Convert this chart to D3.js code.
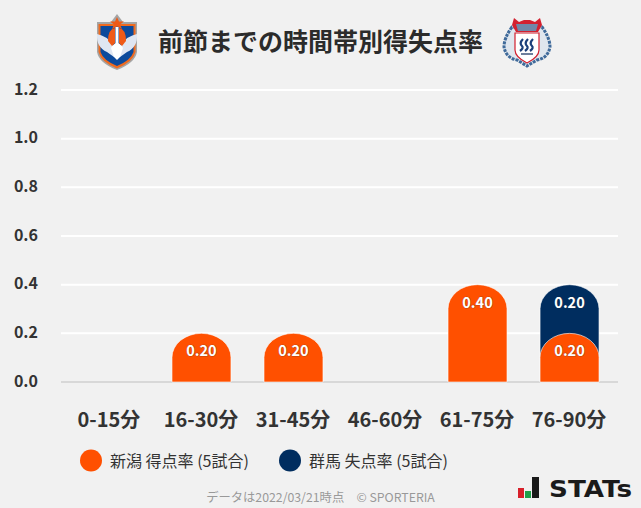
<!DOCTYPE html>
<html><head><meta charset="utf-8">
<script src="https://cdnjs.cloudflare.com/ajax/libs/d3/7.8.5/d3.min.js"></script>
<style>html,body{margin:0;padding:0;background:#f1f1f1}svg{display:block}text{font-family:"Noto Sans CJK JP","Noto Sans",sans-serif}</style>
</head><body><svg id="c" width="641" height="508"></svg>
<script>
const categories=["0-15分","16-30分","31-45分","46-60分","61-75分","76-90分"];
const homeScored=[0,0.20,0.20,0,0.40,0.20];
const awayConceded=[0,0,0,0,0,0.20];
const yTicks=[0,0.2,0.4,0.6,0.8,1.0,1.2];
const title="前節までの時間帯別得失点率";
const legendLabels=["新潟 得点率 (5試合)","群馬 失点率 (5試合)"];
const footer="データは2022/03/21時点　© SPORTERIA";
const ORANGE="#ff5000",NAVY="#002d5f";

const svg=d3.select("#c");
svg.append("rect").attr("width",641).attr("height",508).attr("fill","#f1f1f1");
const x=d3.scaleBand().domain(categories).range([63.5,615.5]).paddingInner(0.359).paddingOuter(0.179);
const y=d3.scaleLinear().domain([0,1.2]).range([382,90]);

svg.append("g").selectAll("line").data(yTicks).join("line")
  .attr("x1",61).attr("x2",618).attr("y1",d=>y(d)).attr("y2",d=>y(d))
  .attr("stroke",d=>d===0?"#d8d8d8":"#fff").attr("stroke-width",2);
svg.append("g").selectAll("text").data(yTicks).join("text")
  .attr("x",38).attr("y",d=>y(d)+4.5).attr("text-anchor","end")
  .attr("font-size",16).attr("font-weight",700).attr("fill","#333").text(d=>d.toFixed(1));
svg.append("g").selectAll("text").data(categories).join("text")
  .attr("x",d=>x(d)+x.bandwidth()/2-0.5).attr("y",427).attr("text-anchor","middle")
  .attr("font-size",20).attr("font-weight",700).attr("fill","#333").text(d=>d);

function barPath(c,lo,hi){
  const l=x(c),w=x.bandwidth(),r=w/2,t=y(hi),b=y(lo),ry=24;
  return `M${l},${b}V${t+ry}A${r},${ry} 0 0 1 ${l+w},${t+ry}V${b}Z`;
}
// Away values sit on top of home values; the home bar is drawn over it.
const stack=d3.stack().keys(["home","away"])(categories.map((c,i)=>({c,home:homeScored[i],away:awayConceded[i]})));
const layers=[{layer:stack[1],fill:NAVY},{layer:stack[0],fill:ORANGE}];
layers.forEach(s=>{
  const data=s.layer.map(d=>({c:d.data.c,lo:d[0],hi:d[1]})).filter(d=>d.hi>d.lo);
  svg.append("g").selectAll("path").data(data).join("path")
    .attr("d",d=>barPath(d.c,0,d.hi)).attr("fill",s.fill)
    .attr("stroke","#fff").attr("stroke-opacity",0.6).attr("stroke-width",1);
  svg.append("g").selectAll("text").data(data).join("text")
    .attr("x",d=>x(d.c)+x.bandwidth()/2).attr("y",d=>y(d.hi)+23)
    .attr("text-anchor","middle").attr("font-size",14.5).attr("font-weight",700).attr("fill","#fff")
    .style("paint-order","stroke").attr("stroke","#333").attr("stroke-opacity",0.35).attr("stroke-width",1.2)
    .text(d=>(d.hi-d.lo).toFixed(2));
});

svg.append("text").attr("x",320.5).attr("y",51).attr("text-anchor","middle")
  .attr("font-size",25).attr("font-weight",700).attr("fill","#2b2b2b").text(title);

// Niigata crest
const a=svg.append("g").attr("transform","translate(117,0)");
a.append("path").attr("d","M-20,22L-6,22L0,14L6,22L20,22L20,52Q18,63 0,70Q-18,63 -20,52Z").attr("fill","#a5a5a5");
a.append("path").attr("d","M-18.5,24H18.5V52Q16,62 0,68.5Q-16,62 -18.5,52Z").attr("fill","#ef6a1f");
a.append("path").attr("d","M-16.5,26H16.5V52Q14,60 0,66Q-14,60 -16.5,52Z").attr("fill","#0c4a9c");
a.append("path").attr("d","M0,17L2,21.5L7,21.5L3,24.5L5,29L0,26.5L-5,29L-3,24.5L-7,21.5L-2,21.5Z").attr("fill","#ef5a18");
a.append("path").attr("d","M-20,34Q-10,36 -5,44L0,52L5,44Q10,36 20,34Q21,47 10,52L3,57H-3L-10,52Q-21,47 -20,34Z").attr("fill","#dfe6f2");
a.append("path").attr("d","M-6,48Q0,38 6,48L3,57L0,60L-3,57Z").attr("fill","#fff");
a.append("path").attr("d","M-9,41Q-9,29 -2,28V43L-5,46Z").attr("fill","#ef5a18");
a.append("path").attr("d","M9,41Q9,29 2,28V43L5,46Z").attr("fill","#ef5a18");
a.append("rect").attr("x",-1.5).attr("y",27).attr("width",3).attr("height",20).attr("fill","#fff");

// Gunma crest
const b=svg.append("g").attr("transform","translate(527,0)");
b.append("path").attr("d","M-15,27Q-23,38 -23,47Q-21,58 -10,60L0,66L10,60Q21,58 23,47Q23,38 15,27Z")
  .attr("fill","#dfe6ee").attr("stroke","#3f6a9a").attr("stroke-width",3).attr("stroke-dasharray","3 1");
b.append("path").attr("d","M-13,18L-8,22L-3,20H3L8,22L13,18L15,25L11,32H-11L-15,25Z").attr("fill","#d3202f");
b.append("path").attr("d","M-11,24H11L9,31H-9Z").attr("fill","#6f87a8");
b.append("path").attr("d","M-12,33H12V50Q12,57 0,63Q-12,57 -12,50Z").attr("fill","#fff").attr("stroke","#d3202f").attr("stroke-width",1.2);
[-5,0,5].forEach(o=>b.append("path").attr("d",`M${o+1},39Q${o-3},43 ${o},46Q${o+2},48 ${o-2},51`).attr("fill","none").attr("stroke","#1b3f7a").attr("stroke-width",2.2));
b.append("rect").attr("x",-6).attr("y",53).attr("width",12).attr("height",2).attr("fill","#6d7f9c");

// legend
const lx=[91,290];
svg.append("g").selectAll("circle").data(legendLabels).join("circle")
  .attr("cx",(d,i)=>lx[i]).attr("cy",460.5).attr("r",11)
  .attr("fill",(d,i)=>i?NAVY:ORANGE);
svg.append("g").selectAll("text").data(legendLabels).join("text")
  .attr("x",(d,i)=>lx[i]+19).attr("y",466.5).attr("font-size",16).attr("fill","#333").text(d=>d);

svg.append("text").attr("x",320.5).attr("y",502).attr("text-anchor","middle")
  .attr("font-size",12.3).attr("fill","#999").text(footer);

// STATs logo
const s=svg.append("g");
s.append("rect").attr("x",518).attr("y",488).attr("width",6).attr("height",10).attr("fill","#d8202a");
s.append("rect").attr("x",525).attr("y",491).attr("width",6).attr("height",7).attr("fill","#1fa04a");
s.append("rect").attr("x",532).attr("y",477).attr("width",7).attr("height",21).attr("fill","#1a1a1a");
s.append("text").attr("x",549).attr("y",497).attr("font-size",23).attr("font-weight",700)
  .style("font-family","'DejaVu Sans',sans-serif").attr("fill","#1a1a1a").attr("textLength",83).attr("lengthAdjust","spacingAndGlyphs").text("STATs");
</script></body></html>
